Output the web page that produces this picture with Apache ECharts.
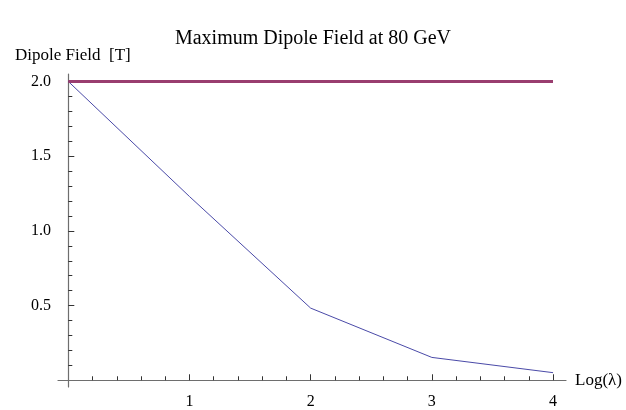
<!DOCTYPE html>
<html>
<head>
<meta charset="utf-8">
<script src="https://cdn.jsdelivr.net/npm/echarts@6/dist/echarts.min.js"></script>
<style>
  html, body { margin: 0; padding: 0; background: #fff; }
  #chart { width: 626px; height: 410px; }
</style>
</head>
<body>
<div id="chart"></div>
<script>
// Log(lambda) sample points
const logLambda = [0, 1, 2, 3, 4];
// maximum dipole field reachable at 80 GeV [T]
const dipoleField = [2.0, 1.23, 0.483, 0.153, 0.051];
// magnet limit [T]
const fieldLimit = [2.0, 2.0, 2.0, 2.0, 2.0];

// axis ticks
const xMajorTicks = [1, 2, 3, 4];
const xMinorTicks = [0.2, 0.4, 0.6, 0.8, 1.2, 1.4, 1.6, 1.8, 2.2, 2.4, 2.6, 2.8, 3.2, 3.4, 3.6, 3.8];
const yMajorTicks = [0.5, 1.0, 1.5, 2.0];
const yMinorTicks = [0.1, 0.2, 0.3, 0.4, 0.6, 0.7, 0.8, 0.9, 1.1, 1.2, 1.3, 1.4, 1.6, 1.7, 1.8, 1.9];

const serif = '"Liberation Serif", "DejaVu Serif", serif';
const axisGray = '#6e6e6e';

const xRange = { min: -0.085, max: 4.107 };
const yRange = { min: -0.045, max: 2.05 };

const chart = echarts.init(document.getElementById('chart'), null, { renderer: 'canvas' });

function xAxisDef(ticks, len, withLabels, withLine) {
  return {
    type: 'value',
    min: xRange.min, max: xRange.max,
    position: 'bottom',
    splitLine: { show: false },
    axisLine: { show: withLine, onZero: true, lineStyle: { color: axisGray, width: 1.2 } },
    axisTick: { show: true, inside: true, length: len, customValues: ticks, lineStyle: { color: '#333', width: 1 } },
    axisLabel: withLabels
      ? { show: true, customValues: ticks, margin: 7, color: '#000', fontFamily: serif, fontSize: 16,
          formatter: v => String(Math.round(v)) }
      : { show: false },
    name: withLabels ? 'Log(\u03bb)' : '',
    nameLocation: 'end',
    nameGap: 9,
    nameTextStyle: { color: '#000', fontFamily: serif, fontSize: 17, padding: [5, 0, 0, 0] }
  };
}

function yAxisDef(ticks, len, withLabels, withLine) {
  return {
    type: 'value',
    min: yRange.min, max: yRange.max,
    position: 'left',
    splitLine: { show: false },
    axisLine: { show: withLine, onZero: true, lineStyle: { color: axisGray, width: 1.2 } },
    axisTick: { show: true, inside: true, length: len, customValues: ticks, lineStyle: { color: '#333', width: 1 } },
    axisLabel: withLabels
      ? { show: true, customValues: ticks, margin: 7, color: '#000', fontFamily: serif, fontSize: 16,
          formatter: v => v.toFixed(1) }
      : { show: false }
  };
}

chart.setOption({
  animation: false,
  backgroundColor: '#fff',
  title: [
    {
      text: 'Maximum Dipole Field at 80 GeV',
      left: 'center',
      top: 24,
      textStyle: { fontFamily: serif, fontSize: 20, fontWeight: 'normal', color: '#000' }
    },
    {
      text: 'Dipole Field  [T]',
      left: 10,
      top: 42,
      textStyle: { fontFamily: serif, fontSize: 17, fontWeight: 'normal', color: '#000' }
    }
  ],
  grid: { left: 58, right: 60, top: 74, bottom: 22, containLabel: false },
  xAxis: [
    xAxisDef(xMajorTicks, 6, true, true),
    xAxisDef(xMinorTicks, 4, false, false)
  ],
  yAxis: [
    yAxisDef(yMajorTicks, 6, true, true),
    yAxisDef(yMinorTicks, 4, false, false)
  ],
  series: [
    {
      type: 'line',
      data: logLambda.map((x, i) => [x, dipoleField[i]]),
      showSymbol: false,
      lineStyle: { color: '#4a4aa8', width: 1 },
      z: 3
    },
    {
      type: 'line',
      data: logLambda.map((x, i) => [x, fieldLimit[i]]),
      showSymbol: false,
      lineStyle: { color: '#993d6f', width: 3 },
      z: 4
    }
  ]
});
</script>
</body>
</html>
